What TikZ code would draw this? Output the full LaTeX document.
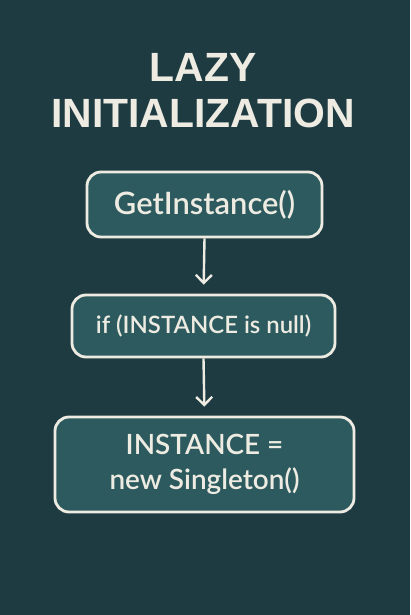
\documentclass[tikz,border=0pt]{standalone}
\usepackage{fontspec}
\setmainfont{Lato}
\newfontfamily\boxfont{Lato Semibold}
\newfontfamily\titlefont{Liberation Sans}
\usetikzlibrary{arrows.meta}
\definecolor{bgteal}{HTML}{1F3B42}
\definecolor{boxteal}{HTML}{2C5A5E}
\definecolor{cream}{HTML}{EEECE2}

\begin{document}
\begin{tikzpicture}[x=1bp, y=-1bp,
    stepbox/.style = {shape=rectangle, rounded corners=14bp,
        draw=cream, line width=2.8bp, fill=boxteal, text=cream,
        align=center, inner sep=0pt},
    flow/.style = {draw=cream, line width=2.4bp, shorten >=9bp,
        -{Straight Barb[length=8bp, width=16bp, line width=2.4bp]}},
    title/.style = {text=cream, align=center, font=\titlefont\bfseries\fontsize{41}{46}\selectfont}]
    \fill[bgteal] (0,0) rectangle (410,615);
    \useasboundingbox (0,0) rectangle (410,615);
    \node[title] (title) at (203,91) {LAZY\\INITIALIZATION};
    \node[stepbox, minimum width=235bp, minimum height=65bp,
        font=\boxfont\fontsize{31}{35}\selectfont] (get) at (204.5,204.5) {GetInstance()};
    \node[stepbox, minimum width=263bp, minimum height=62bp,
        font=\boxfont\fontsize{24}{35}\selectfont] (check) at (203.5,326) {if (INSTANCE is null)};
    \node[stepbox, minimum width=299bp, minimum height=95bp,
        font=\boxfont\fontsize{28}{35}\selectfont] (create) at (204.5,464.5) {INSTANCE =\\new Singleton()};
    \draw[flow] (get.south) -- (check.north);
    \draw[flow] (check.south) -- (create.north);
\end{tikzpicture}
\end{document}
